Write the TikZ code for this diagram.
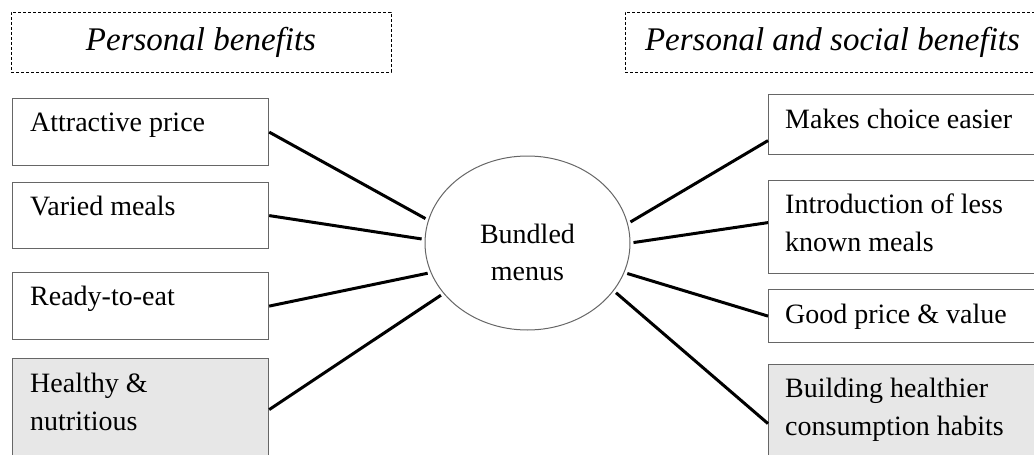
\documentclass[tikz,border=0pt]{standalone}
\usepackage{fontspec}
\setmainfont{Liberation Serif}
\usetikzlibrary{shapes.geometric}
\definecolor{boxgray}{HTML}{E7E7E7}
\definecolor{edgegray}{HTML}{666666}
\tikzset{
	item/.style={draw=edgegray, line width=1.2pt, anchor=north west, inner sep=0pt, minimum width=256pt},
	itemtext/.style={anchor=base west, align=left, inner sep=0pt, font=\fontsize{28}{37.5}\selectfont},
	head/.style={draw, dash pattern=on 3pt off 2pt, line width=0.8pt, minimum height=60pt, inner sep=0pt, font=\fontsize{33}{38}\selectfont\itshape},
	link/.style={line width=3pt, shorten >=3pt},
}
\begin{document}
\begin{tikzpicture}[x=1pt, y=-1pt]
		\useasboundingbox (0,0) rectangle (1034,455);
		\clip (0,0) rectangle (1034,455);
		
		% headings
		\node[head, minimum width=380pt] (hleft) at (201,42) {Personal benefits};
		\node[head, minimum width=415pt] (hright) at (832.5,42) {Personal and social benefits};
		
		% centre (two-line texts sit on their last baseline)
		\node[draw=edgegray, ellipse, line width=1pt, minimum width=205pt, minimum height=174pt, inner sep=0pt] (menu) at (527.5,243) {};
		\node[itemtext, anchor=base, align=center] (menutext) at ([yshift=-37.5pt]menu.center) {Bundled\\menus};
		
		% personal benefits
		\node[item, minimum height=67pt] (l1) at (12,98) {};
		\node[item, minimum height=66pt] (l2) at (12,182) {};
		\node[item, minimum height=67pt] (l3) at (12,272) {};
		\node[item, minimum height=102pt, fill=boxgray] (l4) at (12,358) {};
		\node[itemtext] (l1text) at ([xshift=18pt, yshift=-33pt]l1.north west) {Attractive price};
		\node[itemtext] (l2text) at ([xshift=18pt, yshift=-33pt]l2.north west) {Varied meals};
		\node[itemtext] (l3text) at ([xshift=18pt, yshift=-33pt]l3.north west) {Ready-to-eat};
		\node[itemtext] (l4text) at ([xshift=18pt, yshift=-72pt]l4.north west) {Healthy \&\\nutritious};
		
		% personal and social benefits
		\node[item, minimum width=280pt, minimum height=60pt] (r1) at (768,94) {};
		\node[item, minimum width=280pt, minimum height=93pt] (r2) at (768,180) {};
		\node[item, minimum width=280pt, minimum height=53pt] (r3) at (768,289) {};
		\node[item, minimum width=280pt, minimum height=98pt, fill=boxgray] (r4) at (768,364) {};
		\node[itemtext] (r1text) at ([xshift=17pt, yshift=-34pt]r1.north west) {Makes choice easier};
		\node[itemtext] (r2text) at ([xshift=17pt, yshift=-71pt]r2.north west) {Introduction of less\\known meals};
		\node[itemtext] (r3text) at ([xshift=17pt, yshift=-34pt]r3.north west) {Good price \& value};
		\node[itemtext] (r4text) at ([xshift=17pt, yshift=-71pt]r4.north west) {Building healthier\\consumption habits};
		
		% links
		\foreach \n/\a in {1/167, 2/178, 3/197, 4/211}
		\draw[link] (l\n.east) -- (menu.\a);
		\foreach \n/\s/\a in {1/-16/11, 2/4.5/0, 3/0/-17, 4/-10/-29}
		\draw[link] ([yshift=\s pt]r\n.west) -- (menu.\a);
\end{tikzpicture}
\end{document}
